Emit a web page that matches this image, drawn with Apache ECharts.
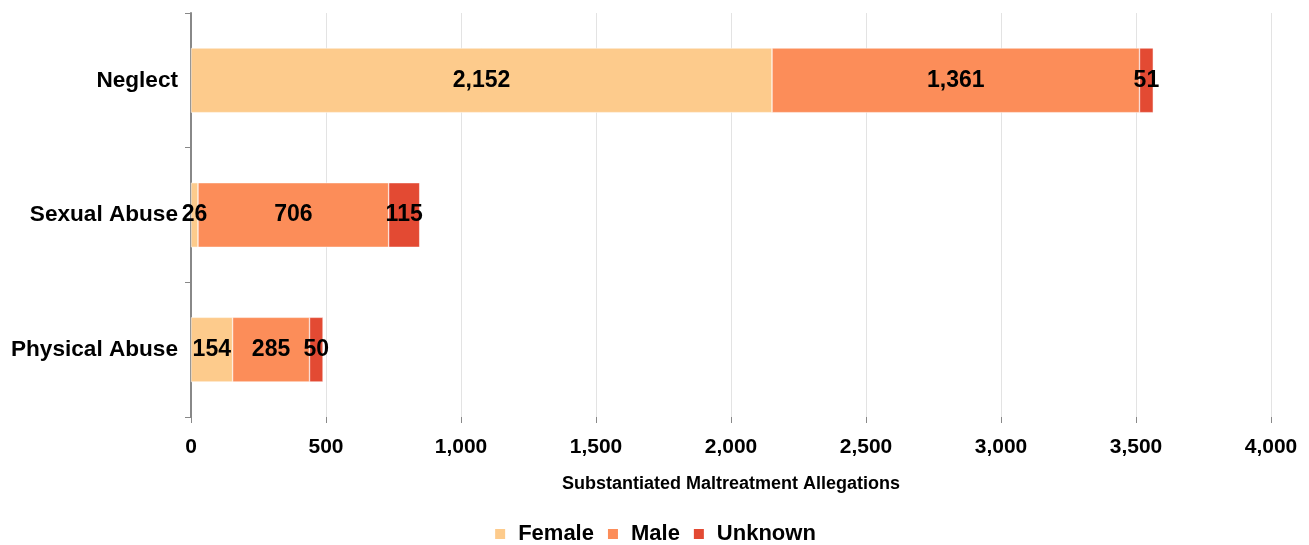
<!DOCTYPE html>
<html>
<head>
<meta charset="utf-8">
<script src="https://cdn.jsdelivr.net/npm/echarts@6/dist/echarts.min.js"></script>
<style>
  html, body { margin: 0; padding: 0; background: #fff; }
  #chart { width: 1309px; height: 545px; }
</style>
</head>
<body>
<div id="chart"></div>
<script>
// categories bottom to top
var categories = ['Physical Abuse', 'Sexual Abuse', 'Neglect']
var female = [154, 26, 2152]
var male = [285, 706, 1361]
var unknown = [50, 115, 51]
var seriesNames = ['Female', 'Male', 'Unknown']
var colors = ['#fdcb8c', '#fc8d59', '#e34a33']

var fontFamily = '"Liberation Sans", Arial, sans-serif'

function fmt(v) {
  return v.toLocaleString('en-US')
}

function makeSeries(name, data, color) {
  return {
    name: name,
    type: 'bar',
    stack: 'total',
    barWidth: '48%',
    data: data,
    itemStyle: { color: color, borderColor: '#fff', borderWidth: 0.5 },
    label: {
      show: true,
      position: 'inside',
      color: '#000',
      fontWeight: 'bold',
      fontSize: 23,
      fontFamily: fontFamily,
      formatter: function(p) { return fmt(p.value) }
    },
    emphasis: { disabled: true }
  }
}

var chart = echarts.init(document.getElementById('chart'))
chart.setOption({
  animation: false,
  color: colors,
  textStyle: { fontFamily: fontFamily },
  grid: { left: 191, right: 38, top: 13, bottom: 128, containLabel: false },
  legend: {
    data: seriesNames,
    bottom: 0,
    padding: 0,
    left: 'center',
    icon: 'rect',
    itemWidth: 12,
    itemHeight: 12,
    itemGap: 12,
    textStyle: {
      fontSize: 22,
      fontWeight: 'bold',
      color: '#000',
      fontFamily: fontFamily,
      padding: [0, 0, 0, 7]
    }
  },
  xAxis: {
    type: 'value',
    min: 0,
    max: 4000,
    interval: 500,
    name: 'Substantiated Maltreatment Allegations',
    nameLocation: 'middle',
    nameGap: 58,
    nameTextStyle: { fontSize: 18, fontWeight: 'bold', color: '#000', fontFamily: fontFamily },
    axisLine: { show: false },
    axisTick: { show: true, length: 6, lineStyle: { color: '#888' } },
    axisLabel: {
      fontSize: 21,
      fontWeight: 'bold',
      color: '#000',
      margin: 20,
      fontFamily: fontFamily,
      formatter: function(v) { return fmt(v) }
    },
    splitLine: { show: true, lineStyle: { color: '#e3e3e3', width: 1 } }
  },
  yAxis: {
    type: 'category',
    data: categories,
    axisLine: { show: true, lineStyle: { color: '#888', width: 2 } },
    axisTick: { show: true, length: 6, lineStyle: { color: '#888' } },
    axisLabel: {
      fontSize: 22.6,
      fontWeight: 'bold',
      color: '#000',
      margin: 13,
      fontFamily: fontFamily
    }
  },
  series: [
    makeSeries('Female', female, colors[0]),
    makeSeries('Male', male, colors[1]),
    makeSeries('Unknown', unknown, colors[2])
  ]
})
</script>
</body>
</html>
